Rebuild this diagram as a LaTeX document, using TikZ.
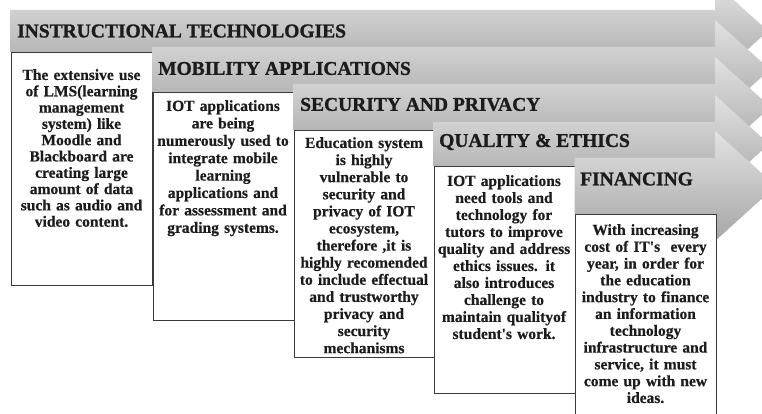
\documentclass[tikz,border=0pt]{standalone}
\usepackage{fontspec}
\setmainfont{Liberation Serif}
\newfontfamily\headfont[FakeBold=1.2]{Liberation Serif Bold}
\newfontfamily\panelfont[FakeBold=0.5]{Liberation Serif Bold}
\definecolor{bandtop}{HTML}{E2E2E2}
\definecolor{bandbot}{HTML}{A6A6A6}
\definecolor{boxline}{HTML}{3A3A3A}
\definecolor{inktext}{HTML}{1C1C1C}
\begin{document}
\begin{tikzpicture}[x=1pt,y=-1pt,
  band/.style={top color=bandtop, bottom color=bandbot, draw=none},
  title/.style={anchor=west, inner sep=0pt, text=inktext,
    font=\fontsize{19.5}{22}\selectfont\headfont},
  panel/.style={draw=boxline, line width=1.1pt, fill=white, inner sep=0pt,
    anchor=north west, minimum width=141pt},
  body/.style={anchor=north, inner sep=0pt, align=center, text width=138pt,
    text=inktext, font=\fontsize{15.5}{17.1}\selectfont\panelfont}]
\useasboundingbox (0,0) rectangle (762,414);

% arrow 1
\path[band] (10,10) -- (715,10) -- (715,-17) -- (768,31) -- (715,79) -- (715,52) -- (10,52) -- cycle;
\node[title] (t1) at (17,31) {INSTRUCTIONAL TECHNOLOGIES};
\node[panel, minimum height=233pt] (p1) at (11,52) {};
\node[body, font=\fontsize{15.5}{16.3}\selectfont\panelfont] (b1) at (81.5,69) {The extensive use\\ of LMS(learning\\ management\\ system) like\\ Moodle and\\ Blackboard are\\ creating large\\ amount of data\\ such as audio and\\ video content.};

% arrow 2
\path[band] (152.6,47) -- (715,47) -- (715,20) -- (770,69.5) -- (715,119) -- (715,92) -- (152.6,92) -- cycle;
\node[title] (t2) at (158,68.5) {MOBILITY APPLICATIONS};
\node[panel, minimum height=228pt] (p2) at (152.5,92) {};
\node[body, font=\fontsize{15.5}{17.4}\selectfont\panelfont] (b2) at (223,100) {IOT applications\\ are being\\ numerously used to\\ integrate mobile\\ learning\\ applications and\\ for assessment and\\ grading systems.};

% arrow 3
\path[band] (293.6,84) -- (715,84) -- (715,57) -- (770.6,107) -- (715,157) -- (715,130) -- (293.6,130) -- cycle;
\node[title] (t3) at (300,104.5) {SECURITY AND PRIVACY};
\node[panel, minimum height=227pt] (p3) at (293.5,130) {};
\node[body] (b3) at (364,137) {Education system\\ is highly\\ vulnerable to\\ security and\\ privacy of IOT\\ ecosystem,\\ therefore ,it is\\ highly recomended\\ to include effectual\\ and trustworthy\\ privacy and\\ security\\ mechanisms};

% arrow 4
\path[band] (433.6,122) -- (715,122) -- (715,95) -- (769,144) -- (715,193) -- (715,166) -- (433.6,166) -- cycle;
\node[title] (t4) at (439,142) {QUALITY \& ETHICS};
\node[panel, minimum height=227pt] (p4) at (433.5,166) {};
\node[body, font=\fontsize{15.5}{17}\selectfont\panelfont] (b4) at (504,175) {IOT applications\\ need tools and\\ technology for\\ tutors to improve\\ quality and address\\ ethics issues. it\\ also introduces\\ challenge to\\ maintain qualityof\\ student's work.};

% arrow 5
\path[band] (574.6,158) -- (715,158) -- (715,131) -- (776,186) -- (715,241) -- (715,214) -- (574.6,214) -- cycle;
\node[title] (t5) at (580,179) {FINANCING};
\node[panel, minimum height=210pt] (p5) at (575,214) {};
\node[body, font=\fontsize{15.5}{16.8}\selectfont\panelfont] (b5) at (645.5,224) {With increasing\\ cost of IT's\ \ every\\ year, in order for\\ the education\\ industry to finance\\ an information\\ technology\\ infrastructure and\\ service, it must\\ come up with new\\ ideas.};
\end{tikzpicture}
\end{document}
